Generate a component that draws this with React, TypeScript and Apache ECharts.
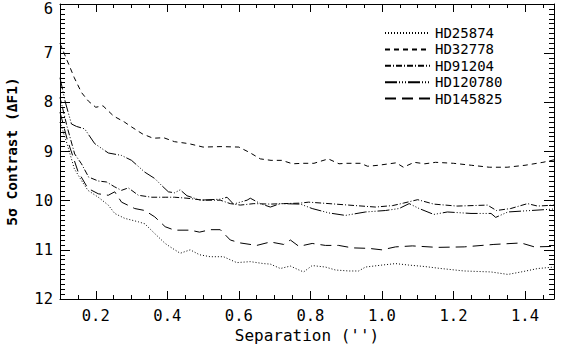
import React, { useEffect, useRef } from "react";
import * as echarts from "echarts";

const SERIES_NAMES = ["HD25874", "HD32778", "HD91204", "HD120780", "HD145825"];

const X_MIN = 0.1;
const X_MAX = 1.481;
const Y_MIN = 6;
const Y_MAX = 12;
const X_MAJOR_TICKS = [0.2, 0.4, 0.6, 0.8, 1.0, 1.2, 1.4];

// [separation (arcsec), 5-sigma contrast (ΔF1)]
const HD25874: number[][] = [
  [0.10, 8.4], [0.12, 8.85], [0.14, 9.35], [0.16, 9.59], [0.178, 9.79], [0.207, 9.93],
  [0.235, 10.09], [0.253, 10.26], [0.281, 10.36], [0.319, 10.43], [0.337, 10.47],
  [0.365, 10.67], [0.394, 10.87], [0.408, 10.94], [0.436, 11.07], [0.464, 11.0],
  [0.49, 11.1], [0.52, 11.14], [0.557, 11.14], [0.594, 11.26], [0.632, 11.24],
  [0.669, 11.28], [0.688, 11.29], [0.716, 11.38], [0.744, 11.33], [0.768, 11.41],
  [0.781, 11.45], [0.805, 11.32], [0.842, 11.35], [0.87, 11.41], [0.907, 11.43],
  [0.935, 11.43], [0.954, 11.35], [1.0, 11.31], [1.038, 11.28], [1.075, 11.31],
  [1.12, 11.34], [1.165, 11.38], [1.23, 11.43], [1.305, 11.45], [1.352, 11.5],
  [1.389, 11.45], [1.436, 11.38], [1.481, 11.35],
];

const HD32778: number[][] = [
  [0.10, 6.8], [0.12, 7.15], [0.14, 7.5], [0.16, 7.8], [0.18, 7.98], [0.20, 8.1],
  [0.22, 8.07], [0.25, 8.28], [0.28, 8.4], [0.30, 8.5], [0.33, 8.64], [0.36, 8.73],
  [0.39, 8.72], [0.42, 8.8], [0.44, 8.82], [0.46, 8.84], [0.50, 8.91], [0.55, 8.9],
  [0.60, 8.91], [0.63, 9.02], [0.66, 9.15], [0.69, 9.18], [0.72, 9.18], [0.75, 9.25],
  [0.78, 9.24], [0.81, 9.24], [0.85, 9.15], [0.88, 9.25], [0.90, 9.24], [0.94, 9.24],
  [0.96, 9.3], [0.99, 9.28], [1.04, 9.23], [1.06, 9.32], [1.09, 9.22], [1.12, 9.25],
  [1.15, 9.22], [1.20, 9.24], [1.25, 9.28], [1.30, 9.32], [1.35, 9.32], [1.40, 9.28],
  [1.45, 9.22], [1.481, 9.17],
];

const HD91204: number[][] = [
  [0.10, 7.9], [0.12, 8.5], [0.141, 9.05], [0.16, 9.25], [0.18, 9.52], [0.207, 9.6],
  [0.23, 9.62], [0.253, 9.72], [0.272, 9.79], [0.291, 9.74], [0.319, 9.89],
  [0.356, 9.93], [0.394, 9.93], [0.42, 9.93], [0.455, 9.95], [0.50, 9.99],
  [0.548, 9.99], [0.576, 10.06], [0.604, 10.09], [0.642, 10.06], [0.688, 10.07],
  [0.725, 10.06], [0.772, 10.05], [0.795, 10.03], [0.852, 10.06], [0.907, 10.09],
  [0.982, 10.13], [1.03, 10.1], [1.06, 10.05], [1.1, 9.98], [1.145, 10.07],
  [1.21, 10.11], [1.295, 10.09], [1.32, 10.2], [1.36, 10.16], [1.407, 10.06],
  [1.435, 10.11], [1.481, 10.09],
];

const HD120780: number[][] = [
  [0.10, 7.5], [0.115, 8.0], [0.132, 8.44], [0.146, 8.49], [0.169, 8.54], [0.197, 8.84],
  [0.235, 9.03], [0.272, 9.08], [0.30, 9.18], [0.337, 9.42], [0.365, 9.55],
  [0.384, 9.69], [0.403, 9.82], [0.42, 9.84], [0.436, 9.78], [0.455, 9.9],
  [0.492, 9.99], [0.548, 9.97], [0.567, 9.93], [0.585, 10.07], [0.623, 9.99],
  [0.632, 9.95], [0.66, 10.06], [0.688, 10.13], [0.716, 10.06], [0.772, 10.07],
  [0.805, 10.16], [0.852, 10.25], [0.898, 10.3], [0.954, 10.23], [1.01, 10.2],
  [1.048, 10.16], [1.076, 10.06], [1.104, 10.16], [1.145, 10.28], [1.183, 10.23],
  [1.249, 10.26], [1.305, 10.26], [1.318, 10.34], [1.352, 10.23], [1.417, 10.2],
  [1.481, 10.17],
];

const HD145825: number[][] = [
  [0.10, 8.2], [0.12, 8.75], [0.15, 9.4], [0.178, 9.75], [0.207, 9.86], [0.235, 9.89],
  [0.253, 9.82], [0.272, 10.03], [0.309, 10.16], [0.337, 10.2], [0.365, 10.33],
  [0.394, 10.53], [0.42, 10.6], [0.464, 10.6], [0.49, 10.64], [0.52, 10.59],
  [0.548, 10.59], [0.576, 10.8], [0.604, 10.86], [0.65, 10.91], [0.688, 10.84],
  [0.725, 10.89], [0.744, 10.8], [0.768, 10.93], [0.805, 10.87], [0.842, 10.91],
  [0.879, 10.91], [0.917, 10.96], [0.963, 10.97], [1.0, 11.0], [1.038, 10.94],
  [1.085, 10.92], [1.155, 10.95], [1.23, 10.94], [1.313, 10.89], [1.389, 10.86],
  [1.426, 10.94], [1.481, 10.93],
];

const SERIES_DATA = [HD25874, HD32778, HD91204, HD120780, HD145825];
const DASHES: number[][] = [
  [1, 2],
  [5, 4],
  [6, 2, 1, 2],
  [12, 2, 1, 2, 1, 2, 1, 2],
  [11, 6],
];

const FONT = "DejaVu Sans Mono";

export default function App() {
  const ref = useRef<HTMLDivElement>(null);
  useEffect(() => {
    if (!ref.current) return;
    document.body.style.margin = "0";
    const chart = echarts.init(ref.current, undefined, { renderer: "svg" });
    const black = "#000";
    const xBase = (pos: string, major: boolean, labels: boolean) => ({
      type: "value",
      position: pos,
      min: X_MIN,
      max: X_MAX,
      ...(major ? {} : { interval: 0.05 }),
      axisLine: { show: !major, lineStyle: { color: black, width: 1 } },
      axisTick: major
        ? { show: true, inside: true, length: 8, customValues: X_MAJOR_TICKS, lineStyle: { color: black } }
        : { show: true, inside: true, length: 4, lineStyle: { color: black } },
      axisLabel: labels
        ? {
            show: true,
            customValues: X_MAJOR_TICKS,
            formatter: (v: number) => v.toFixed(1),
            color: black,
            fontFamily: FONT,
            fontSize: 15.5,
            margin: 9,
          }
        : { show: false },
      splitLine: { show: false },
      ...(labels
        ? {
            name: "Separation ('')",
            nameLocation: "middle",
            nameGap: 28,
            nameMoveOverlap: false,
            nameTextStyle: { color: black, fontFamily: FONT, fontSize: 16, verticalAlign: "top" },
          }
        : {}),
    });
    const yBase = (pos: string, major: boolean, labels: boolean) => ({
      type: "value",
      position: pos,
      inverse: true,
      min: Y_MIN,
      max: Y_MAX,
      interval: major ? 1 : 0.1,
      axisLine: { show: !major, lineStyle: { color: black, width: 1 } },
      axisTick: { show: true, inside: true, length: major ? 10 : 5, lineStyle: { color: black } },
      axisLabel: labels
        ? {
            show: true,
            color: black,
            fontFamily: FONT,
            fontSize: 15.5,
            margin: 7,
            lineHeight: 10,
            verticalAlignMinLabel: "top",
          }
        : { show: false },
      splitLine: { show: false },
      ...(labels
        ? {
            name: "5σ Contrast (ΔF1)",
            nameLocation: "middle",
            nameGap: 41,
            nameMoveOverlap: false,
            nameTextStyle: { color: black, fontFamily: FONT, fontSize: 14.5, fontWeight: "bold" },
          }
        : {}),
    });
    chart.setOption({
      animation: false,
      backgroundColor: "#fff",
      grid: { left: 60, right: 8, top: 4, bottom: 49, containLabel: false, outerBoundsMode: "none" },
      xAxis: [
        xBase("bottom", false, false),
        xBase("bottom", true, true),
        xBase("top", false, false),
        xBase("top", true, false),
      ],
      yAxis: [
        yBase("left", false, false),
        yBase("left", true, true),
        yBase("right", false, false),
        yBase("right", true, false),
      ],
      legend: {
        orient: "vertical",
        left: 379,
        top: 20,
        itemWidth: 45,
        itemHeight: 2,
        itemGap: 0.4,
        data: SERIES_NAMES,
        itemStyle: { color: "rgba(0,0,0,0)", borderColor: "rgba(0,0,0,0)", borderWidth: 0 },
        textStyle: { color: black, fontFamily: FONT, fontSize: 14, lineHeight: 16 },
      },
      series: SERIES_NAMES.map((name, i) => ({
        name,
        type: "line",
        xAxisIndex: 1,
        yAxisIndex: 1,
        data: SERIES_DATA[i],
        symbol: "none",
        showSymbol: false,
        smooth: false,
        lineStyle: { color: black, width: 1, type: DASHES[i] },
        itemStyle: { color: black },
      })),
    });
    return () => chart.dispose();
  }, []);
  return <div ref={ref} style={{ width: 562, height: 348 }} />;
}
